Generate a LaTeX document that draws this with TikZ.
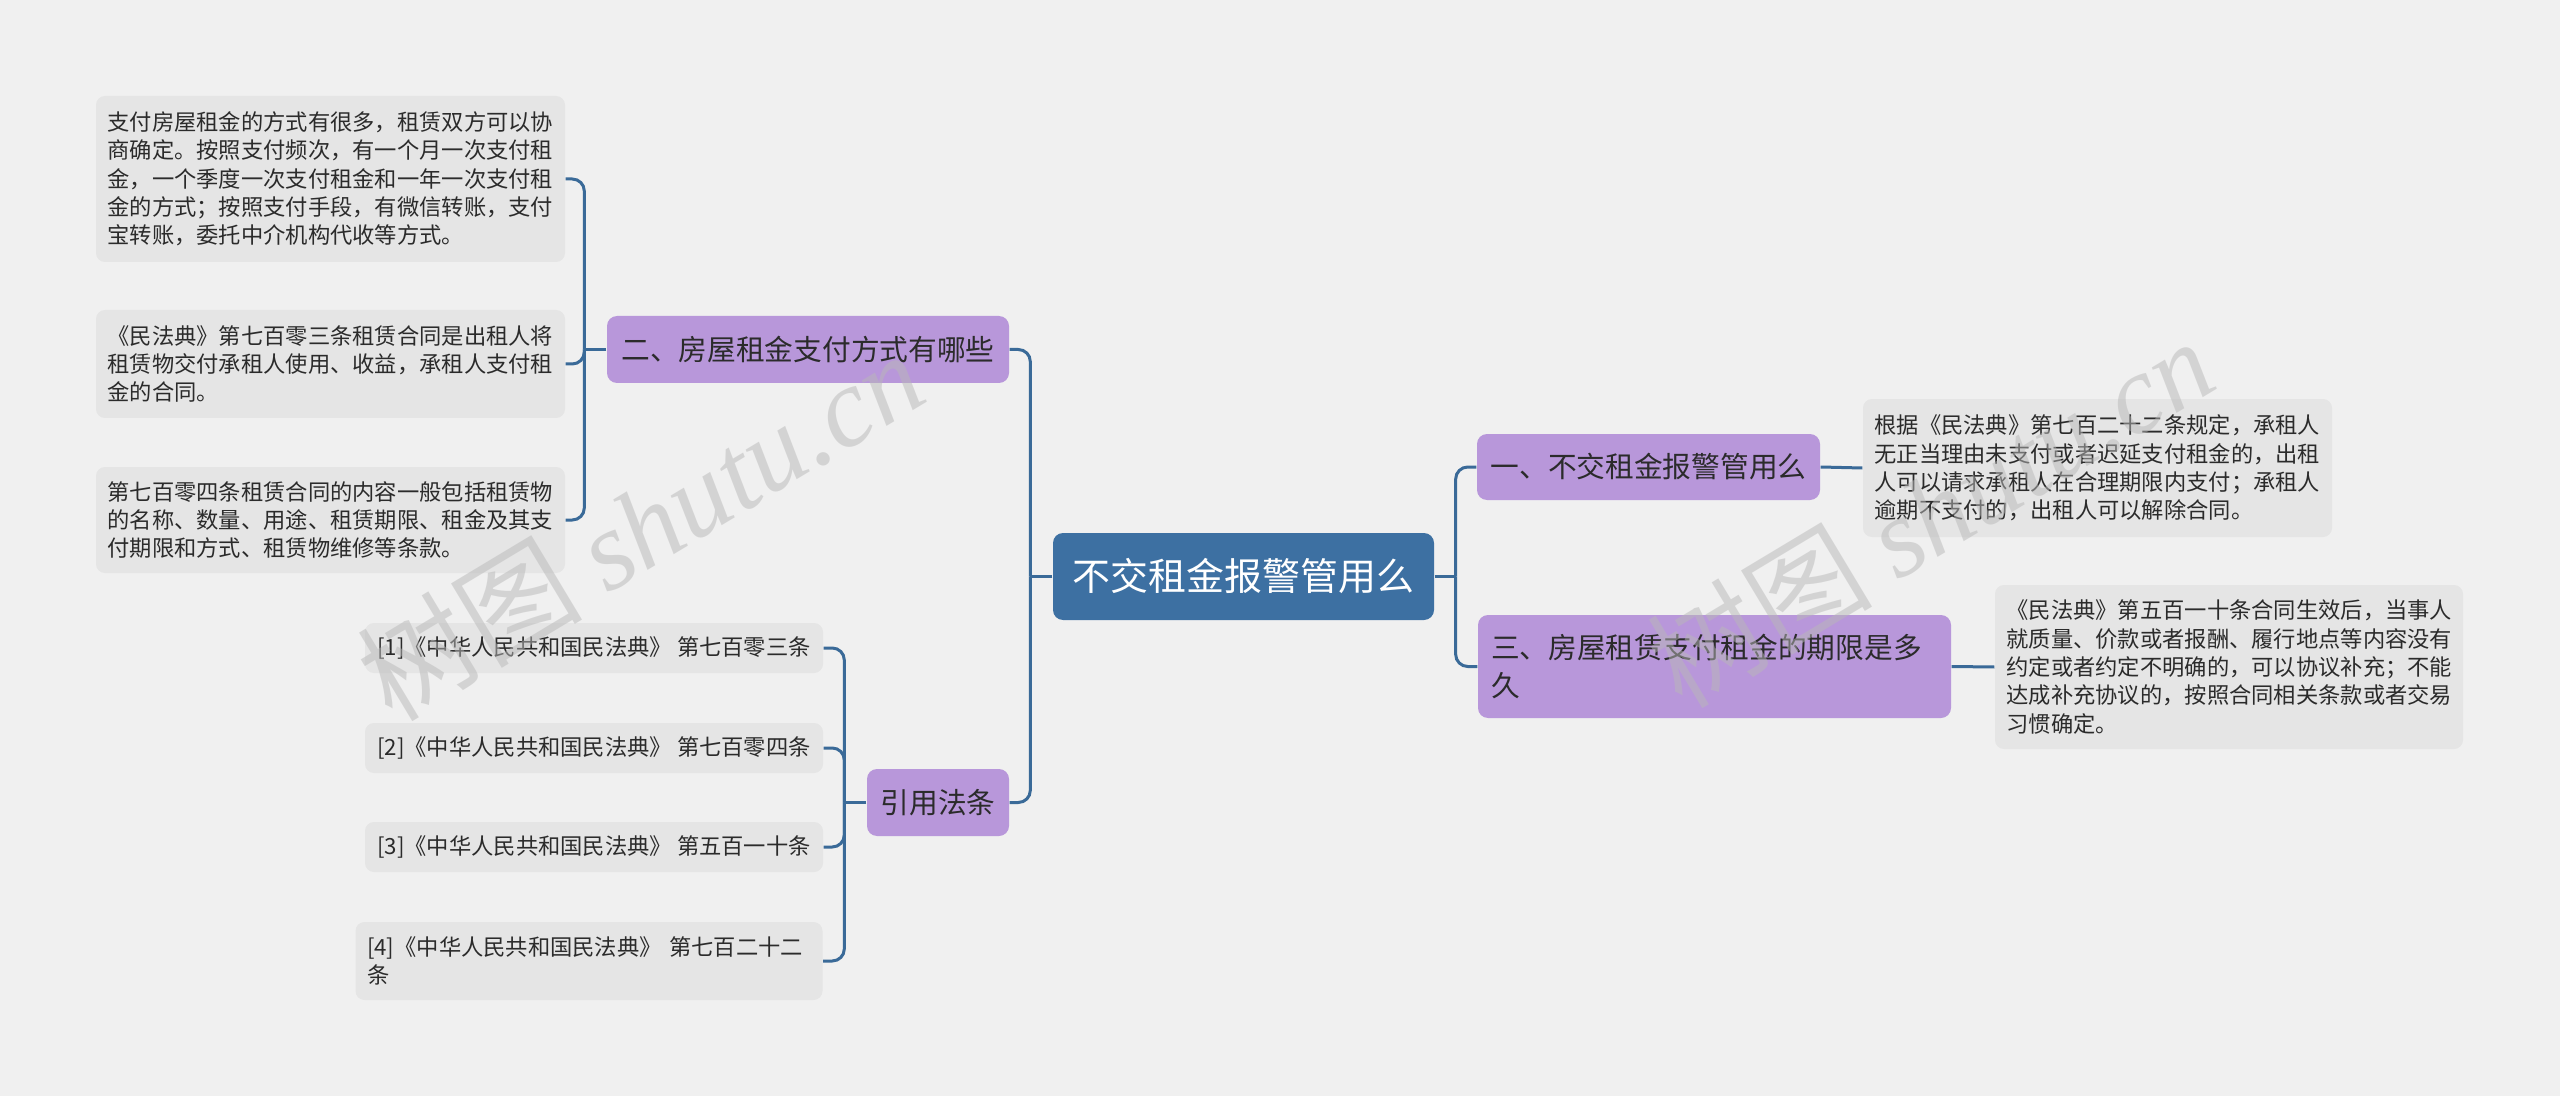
\documentclass[tikz,border=0pt]{standalone}
\usepackage{fontspec}
\newfontfamily\cjk{Noto Sans CJK SC}
\newfontfamily\wmlatin{Liberation Serif}
\definecolor{bggray}{HTML}{F0F0F0}
\definecolor{leafgray}{HTML}{E5E5E5}
\definecolor{rootblue}{HTML}{3D70A2}
\definecolor{branchpurple}{HTML}{B897DA}
\definecolor{linkblue}{HTML}{3A6A98}
\definecolor{inkgray}{HTML}{2B2B2B}
\tikzset{
  root box/.style={
    rectangle, rounded corners=1mm, fill=rootblue, text=white, inner sep=0pt,
    font=\cjk\fontsize{10.8}{13}\selectfont
  },
  branch box/.style={
    rectangle, rounded corners=1mm, fill=branchpurple, text=inkgray, inner sep=0pt,
    font=\cjk\fontsize{8.17}{10.67}\selectfont
  },
  branch two lines/.style={
    branch box, align=left, inner xsep=1.3mm
  },
  leaf box/.style={
    rectangle, rounded corners=0.9mm, fill=leafgray, text=inkgray, align=left,
    inner xsep=1.15mm, inner ysep=0pt,
    font=\cjk\fontsize{6.34}{8.05}\selectfont
  },
  link/.style={
    draw=linkblue, line width=0.3mm, rounded corners=1.2mm
  },
  watermark/.style={
    text=black!28, opacity=0.5, rotate=31, inner sep=0pt,
    font=\fontsize{32}{34}\selectfont
  }
}

\begin{document}
\begin{tikzpicture}[x=0.1mm, y=-0.1mm]

\fill[bggray] (0,0) rectangle (2560,1096);
\useasboundingbox (0,0) rectangle (2560,1096);

% ---------------------------
% 中心主题
% ---------------------------
\node[root box, minimum width=38.1mm, minimum height=8.7mm] (root) at (1243.5,576.5) {不交租金报警管用么};

% ---------------------------
% 左侧：二、房屋租金支付方式有哪些
% ---------------------------
\node[branch box, minimum width=40.2mm, minimum height=6.7mm] (pay) at (808,349.5) {二、房屋租金支付方式有哪些};

\node[leaf box, text width=44.6mm, minimum height=16.6mm] (payA) at (330.5,179) {支付房屋租金的方式有很多，租赁双方可以协\\商确定。按照支付频次，有一个月一次支付租\\金，一个季度一次支付租金和一年一次支付租\\金的方式；按照支付手段，有微信转账，支付\\宝转账，委托中介机构代收等方式。};
\node[leaf box, text width=44.6mm, minimum height=10.8mm] (payB) at (330.5,364) {《民法典》第七百零三条租赁合同是出租人将\\租赁物交付承租人使用、收益，承租人支付租\\金的合同。};
\node[leaf box, text width=44.6mm, minimum height=10.6mm] (payC) at (330.5,520) {第七百零四条租赁合同的内容一般包括租赁物\\的名称、数量、用途、租赁期限、租金及其支\\付期限和方式、租赁物维修等条款。};

% ---------------------------
% 左侧：引用法条
% ---------------------------
\node[branch box, minimum width=14.2mm, minimum height=6.7mm] (cite) at (938,802.5) {引用法条};

\node[leaf box, minimum width=45.8mm, minimum height=5.0mm] (citeA) at (594,648) {[1]《中华人民共和国民法典》~第七百零三条};
\node[leaf box, minimum width=45.8mm, minimum height=5.0mm] (citeB) at (594,748) {[2]《中华人民共和国民法典》~第七百零四条};
\node[leaf box, minimum width=45.8mm, minimum height=5.0mm] (citeC) at (594,847) {[3]《中华人民共和国民法典》~第五百一十条};
\node[leaf box, text width=44.4mm, minimum height=7.8mm] (citeD) at (589,961) {[4]《中华人民共和国民法典》~第七百二十二\\条};

% ---------------------------
% 右侧：一、三
% ---------------------------
\node[branch box, minimum width=34.3mm, minimum height=6.6mm] (police) at (1648.5,467) {一、不交租金报警管用么};
\node[leaf box, text width=44.6mm, minimum height=13.8mm] (policeA) at (2097.5,468) {根据《民法典》第七百二十二条规定，承租人\\无正当理由未支付或者迟延支付租金的，出租\\人可以请求承租人在合理期限内支付；承租人\\逾期不支付的，出租人可以解除合同。};

\node[branch two lines, text width=44.7mm, minimum height=10.3mm] (term) at (1714.5,666.5) {三、房屋租赁支付租金的期限是多\\久};
\node[leaf box, text width=44.5mm, minimum height=16.4mm] (termA) at (2229,667) {《民法典》第五百一十条合同生效后，当事人\\就质量、价款或者报酬、履行地点等内容没有\\约定或者约定不明确的，可以协议补充；不能\\达成补充协议的，按照合同相关条款或者交易\\习惯确定。};

% ---------------------------
% 连线
% ---------------------------
\draw[link] (root.west) -- ++(-22,0) coordinate (jL);
\draw[link] (root.east) -- ++(21,0) coordinate (jR);
\foreach \kid in {pay, cite}
  \draw[link] (jL) |- (\kid.east);
\foreach \kid in {police, term}
  \draw[link] (jR) |- (\kid.west);

\draw[link] (pay.west) -- ++(-22,0) coordinate (jPay);
\foreach \kid in {payA, payB, payC}
  \draw[link] (jPay) |- (\kid.east);

\draw[link] (cite.west) -- ++(-22,0) coordinate (jCite);
\foreach \kid in {citeA, citeB, citeC, citeD}
  \draw[link] (jCite) |- (\kid.east);

\draw[link] (police.east) -- (policeA.west);
\draw[link] (term.east) -- (termA.west);

% ---------------------------
% 水印
% ---------------------------
\node[watermark] (markL) at (640,525) {\cjk 树图 \wmlatin\itshape shutu.cn};
\node[watermark] (markR) at (1930,512) {\cjk 树图 \wmlatin\itshape shutu.cn};

\end{tikzpicture}
\end{document}
